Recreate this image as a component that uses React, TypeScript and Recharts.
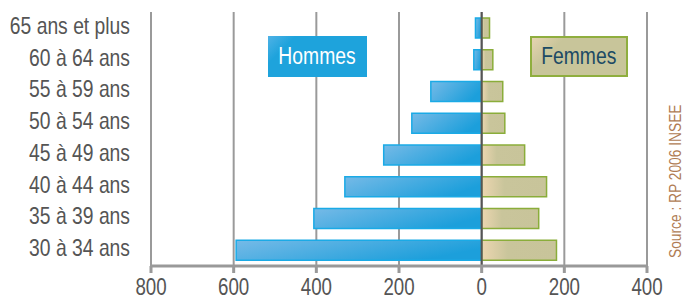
import React from 'react';
import {
  BarChart, Bar, XAxis, YAxis, CartesianGrid, ReferenceLine, Legend
} from 'recharts';

const ageGroups = [
  '65 ans et plus', '60 à 64 ans', '55 à 59 ans', '50 à 54 ans',
  '45 à 49 ans', '40 à 44 ans', '35 à 39 ans', '30 à 34 ans'
];
const hommes = [15, 19, 123, 169, 237, 331, 406, 594];
const femmes = [19, 27, 51, 56, 104, 157, 138, 181];
const xTicks = [-800, -600, -400, -200, 0, 200, 400];

const FONT = '"Liberation Sans", Arial, sans-serif';

const data = ageGroups.map((age, i) => ({
  age,
  hommes: -hommes[i],
  femmes: femmes[i],
}));

// condensed look: regular sans squeezed horizontally
const AgeTick: React.FC<any> = ({ y, payload }) => (
  <text
    transform={`translate(130, ${y}) scale(0.84, 1)`}
    dy={6}
    textAnchor="end"
    fill="#555"
    fontSize={23}
    fontFamily={FONT}
  >
    {payload.value}
  </text>
);

const ValueTick: React.FC<any> = ({ x, y, payload }) => (
  <text
    transform={`translate(${x}, ${y}) scale(0.78, 1)`}
    dy={20}
    textAnchor="middle"
    fill="#555"
    fontSize={24}
    fontFamily={FONT}
  >
    {Math.abs(payload.value)}
  </text>
);

const boxText: React.CSSProperties = {
  display: 'inline-block', transform: 'scaleX(0.84)', fontFamily: FONT, fontSize: 23,
};

const LegendBoxes: React.FC = () => (
  <div style={{ position: 'relative', width: 683, height: 0 }}>
    <div style={{
      position: 'absolute', left: 268, top: 36, width: 99, height: 41, boxSizing: 'border-box',
      background: 'linear-gradient(135deg, #4fb2e6 0%, #1ea3dc 20%, #1ea3dc 100%)',
      color: '#fff', display: 'flex', alignItems: 'center', justifyContent: 'center'
    }}><span style={boxText}>Hommes</span></div>
    <div style={{
      position: 'absolute', left: 530, top: 36, width: 98, height: 41, boxSizing: 'border-box',
      background: 'linear-gradient(135deg, #e6d4b0 0%, #c8c59a 25%, #c8c59a 100%)',
      border: '2px solid #8fae3e',
      color: '#1c4a64', display: 'flex', alignItems: 'center', justifyContent: 'center'
    }}><span style={boxText}>Femmes</span></div>
  </div>
);

const App: React.FC = () => {
  return (
    <div style={{ position: 'absolute', left: 0, top: 0, width: 683, height: 300 }}>
      <BarChart
        width={683}
        height={300}
        data={data}
        layout="vertical"
        stackOffset="sign"
        barCategoryGap={6}
        margin={{ top: 12, right: 36, left: 0, bottom: 0 }}
      >
        <defs>
          <linearGradient id="menGrad" x1="0" y1="0" x2="1" y2="0.4">
            <stop offset="0%" stopColor="#76bae7" />
            <stop offset="100%" stopColor="#1c9fdb" />
          </linearGradient>
          <linearGradient id="womenGrad" x1="0" y1="0" x2="1" y2="0">
            <stop offset="0%" stopColor="#ecd6b0" />
            <stop offset="35%" stopColor="#c9c59b" />
            <stop offset="100%" stopColor="#c8c49a" />
          </linearGradient>
        </defs>
        <CartesianGrid horizontal={false} stroke="#9a9a9a" strokeWidth={2} />
        <XAxis
          type="number"
          domain={[-800, 400]}
          ticks={xTicks}
          stroke="#999"
          strokeWidth={3}
          tickSize={7}
          tick={<ValueTick />}
          height={34}
        />
        <YAxis
          type="category"
          dataKey="age"
          width={151}
          axisLine={false}
          tickLine={false}
          tick={<AgeTick />}
        />
        <Legend content={<LegendBoxes />} wrapperStyle={{ top: 0, left: 0 }} />
        <Bar dataKey="hommes" stackId="a" fill="url(#menGrad)" stroke="#1aaae6" strokeWidth={1.5} isAnimationActive={false} />
        <Bar dataKey="femmes" stackId="a" fill="url(#womenGrad)" stroke="#8aad3a" strokeWidth={1.5} isAnimationActive={false} />
        <ReferenceLine x={0} stroke="#555" strokeWidth={2} />
      </BarChart>
      <div style={{
        position: 'absolute', left: 667, top: 258, transformOrigin: 'left top',
        transform: 'rotate(-90deg)', whiteSpace: 'nowrap',
        color: '#b07c54', fontFamily: FONT, fontSize: 16
      }}><span style={{ display: 'inline-block', transform: 'scaleX(0.86)', transformOrigin: 'left center' }}>Source : RP 2006 INSEE</span></div>
    </div>
  );
};

export default App;
